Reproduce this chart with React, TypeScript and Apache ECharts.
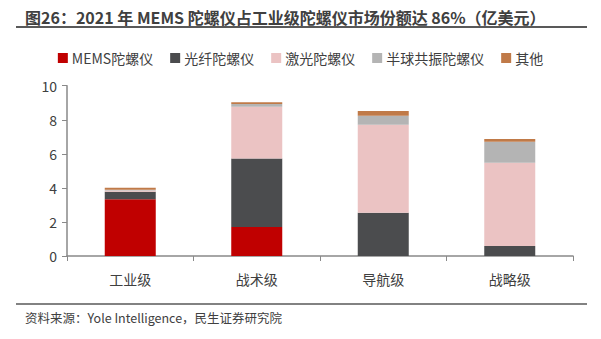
import React, { useEffect, useRef } from "react";
import * as echarts from "echarts";

const categories = ["工业级", "战术级", "导航级", "战略级"];
const seriesNames = ["MEMS陀螺仪", "光纤陀螺仪", "激光陀螺仪", "半球共振陀螺仪", "其他"];
const memsValues = [3.33, 1.7, 0, 0];
const fiberValues = [0.45, 4.03, 2.54, 0.59];
const laserValues = [0.06, 3.04, 5.17, 4.89];
const hrgValues = [0.05, 0.16, 0.53, 1.23];
const otherValues = [0.12, 0.1, 0.27, 0.16];
const yTicks = [0, 2, 4, 6, 8, 10];
const colors = ["#C00000", "#4B4C4E", "#EBC3C3", "#B4B4B4", "#C07A48"];

const titleText = "图26：2021 年 MEMS 陀螺仪占工业级陀螺仪市场份额达 86%（亿美元）";
const sourceText = "资料来源：Yole Intelligence，民生证券研究院";

export default function App() {
  const ref = useRef<HTMLDivElement>(null);
  useEffect(() => {
    if (!ref.current) return;
    const chart = echarts.init(ref.current, null, { renderer: "svg" });
    const allValues = [memsValues, fiberValues, laserValues, hrgValues, otherValues];
    const font = "'Microsoft YaHei', 'Noto Sans CJK SC', sans-serif";
    chart.setOption({
      animation: false,
      textStyle: { fontFamily: font },
      graphic: [
        {
          type: "text",
          left: 25,
          top: 8.5,
          style: { text: titleText, font: `bold 16px ${font}`, fill: "#404040" },
        },
        {
          type: "line",
          shape: { x1: 16, y1: 27, x2: 587, y2: 27 },
          style: { stroke: "#595959", lineWidth: 2 },
        },
        {
          type: "line",
          shape: { x1: 16, y1: 304, x2: 587, y2: 304 },
          style: { stroke: "#595959", lineWidth: 1.5 },
        },
        {
          type: "text",
          left: 25,
          top: 311,
          style: { text: sourceText, font: `12.5px ${font}`, fill: "#404040" },
        },
      ],
      legend: {
        top: 46,
        left: "center",
        icon: "rect",
        itemWidth: 10,
        itemHeight: 10,
        itemGap: 17,
        textStyle: { fontSize: 14, color: "#404040", padding: [0, 0, 0, -1] },
        data: seriesNames,
      },
      grid: { left: 67, right: 28, top: 85.7, bottom: 83 },
      xAxis: {
        type: "category",
        data: categories,
        axisLine: { lineStyle: { color: "#898989", width: 1.5 } },
        axisTick: { show: true, length: 5, lineStyle: { color: "#898989" } },
        axisLabel: { fontSize: 14, color: "#404040", margin: 16 },
      },
      yAxis: {
        type: "value",
        min: yTicks[0],
        max: yTicks[yTicks.length - 1],
        interval: 2,
        splitLine: { show: false },
        axisLine: { show: true, lineStyle: { color: "#898989", width: 1.5 } },
        axisTick: { show: true, length: 5, lineStyle: { color: "#898989" } },
        axisLabel: { fontSize: 14, color: "#404040", margin: 10 },
      },
      series: seriesNames.map((name, i) => ({
        name,
        type: "bar",
        stack: "total",
        barWidth: 51,
        data: allValues[i],
        itemStyle: { color: colors[i] },
      })),
    });
    return () => chart.dispose();
  }, []);
  return <div ref={ref} style={{ width: 601, height: 339, margin: -8 }} />;
}
